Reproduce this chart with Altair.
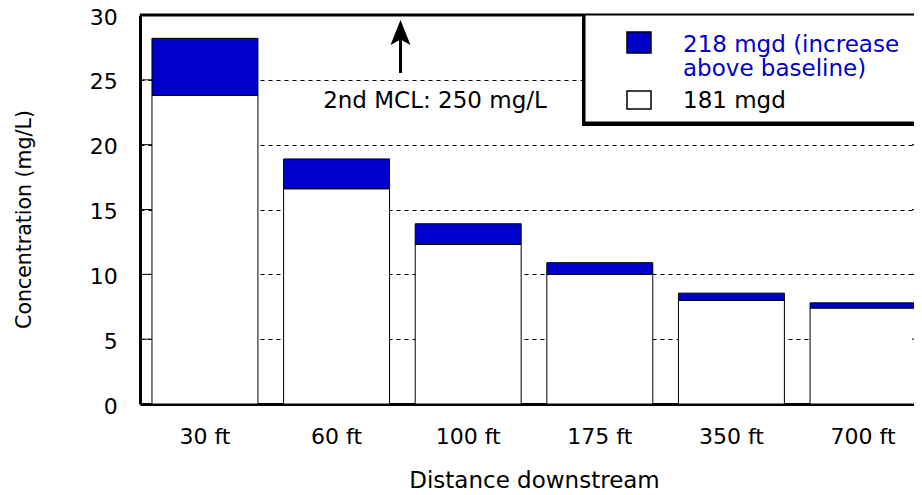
import altair as alt
import pandas as pd

FONT = "DejaVu Sans"

distances = ["30 ft", "60 ft", "100 ft", "175 ft", "350 ft", "700 ft"]
base_181 = [23.8, 16.6, 12.3, 10.0, 8.0, 7.4]
increase_218 = [4.4, 2.3, 1.6, 0.9, 0.55, 0.4]
series_names = ["181 mgd", "218 mgd (increase above baseline)"]
series_colors = ["#FFFFFF", "#0000CC"]
y_ticks = [0, 5, 10, 15, 20, 25, 30]
inner_ticks = [5, 10, 15, 20, 25]
legend_lines_blue = ["218 mgd (increase", "above baseline)"]
legend_line_black = ["181 mgd"]
mcl_label = ["2nd MCL: 250 mg/L"]

rows = []
for d, b, inc in zip(distances, base_181, increase_218):
    rows.append({"distance": d, "series": series_names[0], "value": b, "order": 0})
    rows.append({"distance": d, "series": series_names[1], "value": inc, "order": 1})
df = pd.DataFrame(rows)

W = 774
RANGE = 788
H = 389

x_enc = alt.X(
    "distance:N",
    sort=distances,
    scale=alt.Scale(range=[0, RANGE], paddingInner=0.195, paddingOuter=0.091),
    axis=alt.Axis(
        title="Distance downstream", labelAngle=0, ticks=False, labelPadding=22,
        domainColor="black", domainWidth=3, labelFontSize=22, titleFontSize=23,
        titleY=65, titleBaseline="top", grid=False,
    ),
)
y_scale = alt.Scale(domain=[0, 30], nice=False)
y_axis = alt.Axis(
    values=y_ticks, title="Concentration (mg/L)", ticks=False, labelPadding=22.7,
    labelFontSize=22, titleFontSize=20.5, grid=True, gridDash=[4, 4], gridColor="#000000",
    gridWidth=1, domainWidth=3, domainColor="black", titleAngle=-90, titleX=-110,
    titleY=204, titleAlign="center", titleBaseline="alphabetic", labelOffset=2,
)

bars = alt.Chart(df).mark_bar(stroke="black", strokeWidth=1).encode(
    x=x_enc,
    y=alt.Y("value:Q", stack="zero", scale=y_scale, axis=y_axis),
    fill=alt.Fill("series:N", scale=alt.Scale(domain=series_names, range=series_colors), legend=None),
    order=alt.Order("order:Q"),
)

ticks_df = pd.DataFrame({"value": inner_ticks})
left_ticks = alt.Chart(ticks_df).mark_rule(color="black", strokeWidth=1).encode(
    y=alt.Y("value:Q", scale=y_scale, axis=y_axis), x=alt.value(0), x2=alt.value(12)
)
right_ticks = alt.Chart(ticks_df).mark_rule(color="black", strokeWidth=1).encode(
    y=alt.Y("value:Q", scale=y_scale, axis=y_axis), x=alt.value(RANGE - 16), x2=alt.value(RANGE)
)
top_df = pd.DataFrame({"value": [30]})
top_border = alt.Chart(top_df).mark_rule(color="black", strokeWidth=3).encode(
    y=alt.Y("value:Q", scale=y_scale, axis=y_axis), x=alt.value(0), x2=alt.value(RANGE)
)

one = pd.DataFrame({"t": mcl_label})
arrow_shaft = alt.Chart(one).mark_rule(color="black", strokeWidth=3).encode(
    x=alt.value(260.5), y=alt.value(58), y2=alt.value(22)
)
arrow_head = alt.Chart(one).mark_point(
    shape="M0,-1L0.8,1L0,0.55L-0.8,1Z", filled=True, color="black", size=625, opacity=1
).encode(x=alt.value(260.5), y=alt.value(17.5))
mcl_text = alt.Chart(one).mark_text(
    align="center", baseline="alphabetic", fontSize=23, font=FONT, color="black"
).encode(x=alt.value(295), y=alt.value(93), text="t:N")

leg_shadow = alt.Chart(one).mark_rect(color="black").encode(
    x=alt.value(442), x2=alt.value(782), y=alt.value(-1), y2=alt.value(111)
)
leg_box = alt.Chart(one).mark_rect(fill="white", stroke="black", strokeWidth=1).encode(
    x=alt.value(445), x2=alt.value(780), y=alt.value(0), y2=alt.value(107)
)
leg_blue_sq = alt.Chart(one).mark_rect(fill=series_colors[1], stroke="black", strokeWidth=1.5).encode(
    x=alt.value(487), x2=alt.value(511), y=alt.value(17), y2=alt.value(38)
)
leg_white_sq = alt.Chart(one).mark_rect(fill=series_colors[0], stroke="black", strokeWidth=1.5).encode(
    x=alt.value(487), x2=alt.value(511), y=alt.value(76), y2=alt.value(94)
)
leg_t1 = alt.Chart(pd.DataFrame({"t": [legend_lines_blue[0]]})).mark_text(
    align="left", baseline="alphabetic", fontSize=23, font=FONT, color="#0000CC"
).encode(x=alt.value(543), y=alt.value(37), text="t:N")
leg_t2 = alt.Chart(pd.DataFrame({"t": [legend_lines_blue[1]]})).mark_text(
    align="left", baseline="alphabetic", fontSize=23, font=FONT, color="#0000CC"
).encode(x=alt.value(543), y=alt.value(61), text="t:N")
leg_t3 = alt.Chart(pd.DataFrame({"t": legend_line_black})).mark_text(
    align="left", baseline="alphabetic", fontSize=23, font=FONT, color="black"
).encode(x=alt.value(543), y=alt.value(93), text="t:N")

chart = alt.layer(
    bars, left_ticks, right_ticks, top_border, arrow_shaft, arrow_head, mcl_text,
    leg_shadow, leg_box, leg_blue_sq, leg_white_sq, leg_t1, leg_t2, leg_t3,
).properties(
    width=W, height=H,
    autosize=alt.AutoSizeParams(type="none"),
    padding={"left": 132, "top": 7, "right": 0, "bottom": 90},
).configure(font=FONT).configure_view(stroke=None).configure_axis(
    labelFont=FONT, titleFont=FONT, labelColor="black", titleColor="black", titleFontWeight="normal"
)

chart.save("out.html", embed_options={"renderer": "svg", "actions": False})
